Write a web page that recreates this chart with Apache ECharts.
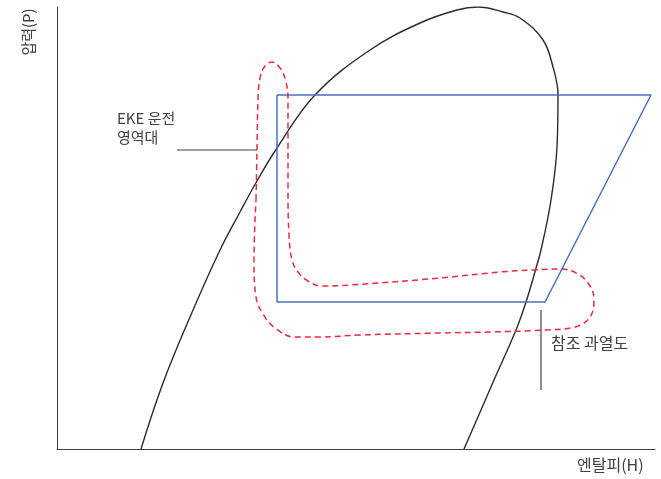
<!DOCTYPE html>
<html>
<head>
<meta charset="utf-8">
<script src="https://cdn.jsdelivr.net/npm/echarts@6/dist/echarts.min.js"></script>
<style>
  html, body { margin: 0; padding: 0; background: #fff; }
  #chart { width: 661px; height: 479px; }
</style>
</head>
<body>
<div id="chart"></div>
<script>
// P-H diagram: saturation dome, refrigeration cycle and EKE operating region.
// Coordinates are [enthalpy, pressure] in arbitrary diagram units.

// Saturation dome (liquid line up to the critical point, then vapour line down)
const domeH = [84, 106, 133, 163, 183, 200, 220, 258, 313, 363, 400, 421, 446, 463, 486, 496, 501, 500, 494, 484, 478.5, 469, 459, 437, 407];
const domeP = [0, 66, 132, 199, 237, 268, 301, 354, 399, 426, 439, 442, 437, 431, 409, 382, 354, 302, 249, 199, 179, 147, 119, 69, 0];

// Refrigeration cycle (condensing line, expansion, evaporating line, compression)
const cycleH = [220, 594, 488, 220, 220];
const cycleP = [354, 354, 147, 147, 354];

// EKE operating region outline (closed loop)
const regionH = [199, 200, 201, 203, 208, 215, 223, 229, 231, 231, 231, 232, 235, 241, 251, 265, 293, 383, 443, 476, 503, 521, 533, 537, 533, 518, 488, 433, 383, 303, 263, 238, 218, 206, 199, 197, 199];
const regionP = [249, 299, 349, 371, 383, 387, 381, 367, 349, 309, 259, 214, 189, 177, 168, 163, 164, 171, 177, 179, 180, 175, 163, 149, 132, 122, 119, 117, 116, 114, 112, 112, 121, 135, 152, 189, 249];

// Leader lines for the annotations
const ekeLeaderH = [120, 200];
const ekeLeaderP = [299, 299];
const superheatLeaderH = [484, 484];
const superheatLeaderP = [139, 59];

// Text
const axisNameH = '엔탈피(H)';
const axisNameP = '압력(P)';
const ekeLabel = 'EKE 운전\n영역대';
const superheatLabel = '참조 과열도';

const zip = (xs, ys) => xs.map((x, i) => [x, ys[i]]);

const FONT = '"Noto Sans CJK KR", "Noto Sans", sans-serif';
const TEXT_COLOR = '#404040';

const chart = echarts.init(document.getElementById('chart'), null, { renderer: 'canvas' });

const baseLine = {
  type: 'line',
  symbol: 'none',
  silent: true,
  animation: false,
  z: 2
};

chart.setOption({
  backgroundColor: '#ffffff',
  animation: false,
  grid: { left: 57, top: 7, width: 598, height: 442 },
  xAxis: {
    type: 'value', min: 0, max: 598,
    axisLine: { show: true, lineStyle: { color: '#404040', width: 1 } },
    axisTick: { show: false }, axisLabel: { show: false }, splitLine: { show: false }
  },
  yAxis: {
    type: 'value', min: 0, max: 442,
    axisLine: { show: true, lineStyle: { color: '#404040', width: 1 } },
    axisTick: { show: false }, axisLabel: { show: false }, splitLine: { show: false }
  },
  series: [
    Object.assign({}, baseLine, {
      name: 'dome',
      data: zip(domeH, domeP),
      smooth: 0.4,
      lineStyle: { color: '#2b2b2b', width: 1.4 }
    }),
    Object.assign({}, baseLine, {
      name: 'cycle',
      data: zip(cycleH, cycleP),
      lineStyle: { color: '#4a70bf', width: 1.5 }
    }),
    Object.assign({}, baseLine, {
      name: 'region',
      data: zip(regionH, regionP),
      smooth: 0.4,
      lineStyle: { color: '#f0283c', width: 1.5, type: [6, 4] }
    }),
    Object.assign({}, baseLine, {
      name: 'ekeLeader',
      data: zip(ekeLeaderH, ekeLeaderP),
      lineStyle: { color: '#404040', width: 1.2 }
    }),
    Object.assign({}, baseLine, {
      name: 'superheatLeader',
      data: zip(superheatLeaderH, superheatLeaderP),
      lineStyle: { color: '#404040', width: 1.2 }
    })
  ],
  graphic: [
    {
      type: 'text', left: 117, top: 109, silent: true,
      style: { text: ekeLabel, fill: TEXT_COLOR, font: '15px ' + FONT, lineHeight: 19 }
    },
    {
      type: 'text', left: 551, top: 335, silent: true,
      style: { text: superheatLabel, fill: TEXT_COLOR, font: '16px ' + FONT }
    },
    {
      type: 'text', left: 577, top: 457, silent: true,
      style: { text: axisNameH, fill: TEXT_COLOR, font: '16px ' + FONT }
    },
    {
      type: 'text', x: 28, y: 32, rotation: Math.PI / 2, silent: true,
      style: { text: axisNameP, fill: TEXT_COLOR, font: '15px ' + FONT, align: 'center', verticalAlign: 'middle' }
    }
  ]
});
</script>
</body>
</html>
